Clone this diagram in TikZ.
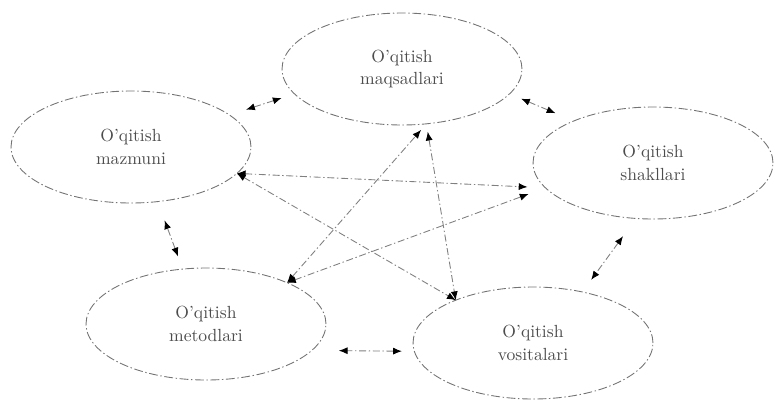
\documentclass[tikz,border=0pt]{standalone}
\usepackage{tikz}
\usetikzlibrary{arrows.meta,shapes.geometric}
\usepackage{xcolor}

\begin{document}
\begin{tikzpicture}[
    x=0.02cm, y=-0.02cm,
    oval/.style={draw=black!55, ellipse, line width=0.5pt, inner sep=0pt, outer sep=0pt,
        minimum width=4.8cm, minimum height=2.24cm, align=center, text=black!70,
        font=\fontsize{10}{13}\selectfont,
        dash pattern=on 5pt off 1.5pt on 0.8pt off 1.5pt},
    link/.style={{Latex[length=5pt,width=4pt,color=black]}-{Latex[length=5pt,width=4pt,color=black]},
        draw=black!50, line width=0.5pt, dash pattern=on 4pt off 1.5pt on 0.8pt off 1.5pt}
]
    \useasboundingbox (0,0) rectangle (776,403);

    \node[oval] (maqsad) at (402,69) {O'qitish\\maqsadlari};
    \node[oval] (mazmun) at (131,147) {O'qitish\\mazmuni};
    \node[oval] (shakl) at (653,163) {O'qitish\\shakllari};
    \node[oval] (metod) at (206,324) {O'qitish\\metodlari};
    \node[oval] (vosita) at (533,343) {O'qitish\\vositalari};

    % qo'shni elementlar
    \draw[link, shorten <=0.35cm, shorten >=0.27cm] (mazmun.18) -- (maqsad.193.6);
    \draw[link, shorten <=0.25cm, shorten >=0.4cm] (maqsad.-13.8) -- (shakl.152.5);
    \draw[link, shorten <=0.44cm, shorten >=0.3cm] (shakl.253) -- (vosita.46.4);
    \draw[link, shorten <=0.25cm, shorten >=0.54cm] (vosita.184) -- (metod.-14.4);
    \draw[link, shorten <=0.27cm, shorten >=0.4cm] (metod.113.7) -- (mazmun.-64.4);

    % uzoq bog'lanishlar
    \draw[link, shorten >=0.36cm] (mazmun.-14) -- (shakl.193);
    \draw[link] (mazmun.-14) -- (vosita.151);
    \draw[link, shorten >=0.16cm] (metod.27.4) -- (maqsad.-66);
    \draw[link, shorten >=0.36cm] (metod.27.4) -- (shakl.193);
    \draw[link, shorten <=0.16cm] (maqsad.-66) -- (vosita.151);
\end{tikzpicture}
\end{document}
